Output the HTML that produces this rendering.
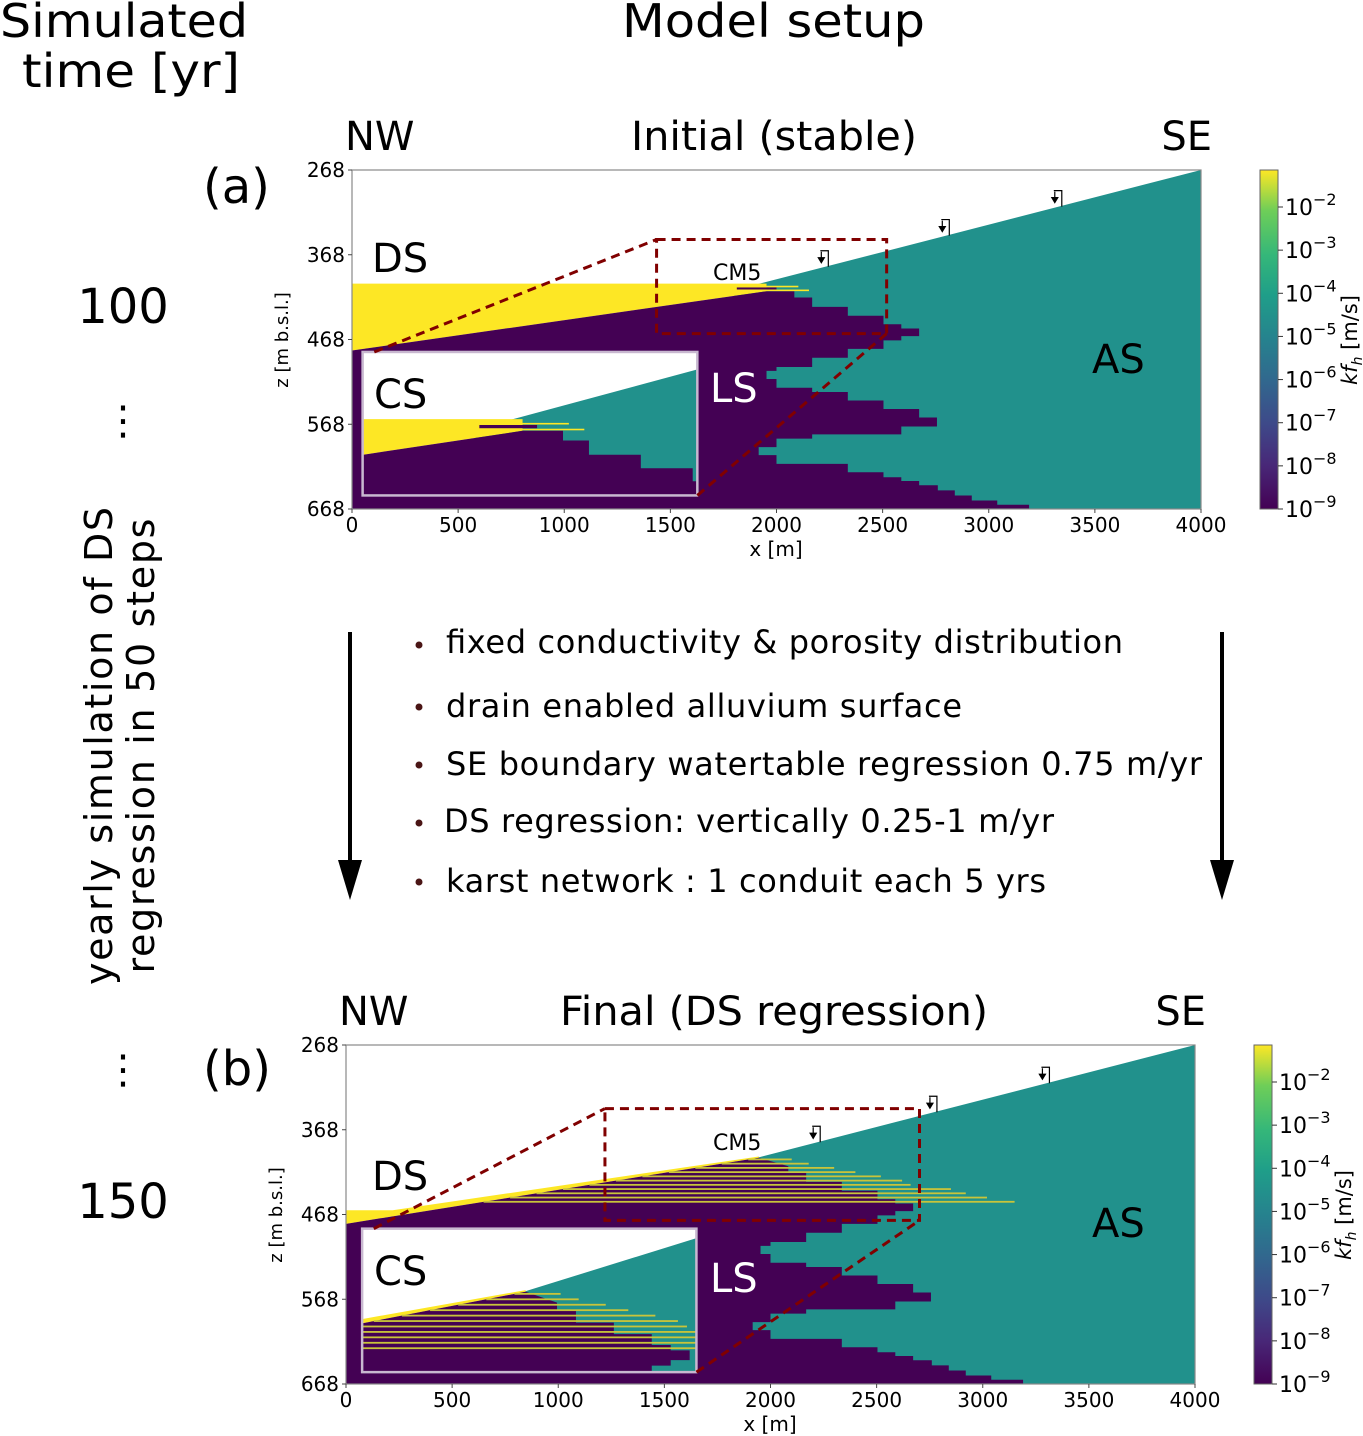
<!DOCTYPE html>
<html><head><meta charset="utf-8">
<style>
html,body{margin:0;padding:0;background:#fff;overflow:hidden;width:1363px;height:1436px;}
svg{display:block;font-family:"DejaVu Sans","Liberation Sans",sans-serif;}
</style></head>
<body>
<svg id="fig" width="1363" height="1436" viewBox="0 0 1363 1436" xmlns="http://www.w3.org/2000/svg">
<defs>
<linearGradient id="viridis" x1="0" y1="1" x2="0" y2="0">
<stop offset="0" stop-color="#440154"/><stop offset="0.13" stop-color="#482878"/><stop offset="0.25" stop-color="#3e4989"/>
<stop offset="0.38" stop-color="#31688e"/><stop offset="0.5" stop-color="#26828e"/><stop offset="0.63" stop-color="#1f9e89"/>
<stop offset="0.75" stop-color="#35b779"/><stop offset="0.88" stop-color="#6ece58"/><stop offset="1" stop-color="#fde725"/>
</linearGradient>
</defs>
<g font-size="46">
<text x="0" y="37" textLength="248" lengthAdjust="spacingAndGlyphs">Simulated</text>
<text x="22" y="87" textLength="218" lengthAdjust="spacingAndGlyphs">time [yr]</text>
<text x="622" y="37" textLength="303" lengthAdjust="spacingAndGlyphs">Model setup</text>
</g>
<g font-size="48">
<text x="123" y="323" text-anchor="middle">100</text>
<text x="123" y="1218" text-anchor="middle">150</text>
<text x="123" y="434" text-anchor="middle" font-size="40">⋮</text>
<text x="123" y="1083" text-anchor="middle" font-size="40">⋮</text>
<text x="203" y="203" font-size="48">(a)</text>
<text x="203" y="1085" font-size="48">(b)</text>
</g>
<g transform="translate(112,746) rotate(-90)" font-size="38">
<text x="0" y="0" text-anchor="middle" textLength="478">yearly simulation of DS</text>
<text x="0" y="42" text-anchor="middle" textLength="455">regression in 50 steps</text>
</g>
<g font-size="32">
<g fill="#4a1515"><circle cx="419" cy="645" r="3.5"/><circle cx="419" cy="707" r="3.5"/><circle cx="419" cy="765" r="3.5"/><circle cx="419" cy="823" r="3.5"/><circle cx="419" cy="882" r="3.5"/></g>
<text x="446" y="653" textLength="677">fixed conductivity &amp; porosity distribution</text>
<text x="446" y="717" textLength="516">drain enabled alluvium surface</text>
<text x="446" y="775" textLength="756">SE boundary watertable regression 0.75 m/yr</text>
<text x="444" y="832" textLength="610">DS regression: vertically 0.25-1 m/yr</text>
<text x="446" y="892" textLength="600">karst network : 1 conduit each 5 yrs</text>
</g>
<g>
<line x1="350" y1="632" x2="350" y2="870" stroke="#000" stroke-width="4"/>
<polygon points="338,860 362,860 350,900" fill="#000"/>
<line x1="1222" y1="632" x2="1222" y2="870" stroke="#000" stroke-width="4"/>
<polygon points="1210,860 1234,860 1222,900" fill="#000"/>
</g>
<g id="panelA"></g>
<g id="panelB"></g>
</svg>
<script>
// ---- data (metres) ----
const xTicks = [0, 500, 1000, 1500, 2000, 2500, 3000, 3500, 4000];
const zTicks = [268, 368, 468, 568, 668];
const cbExponents = [-2, -3, -4, -5, -6, -7, -8, -9];
// ground surface (AS top): two points
const surfaceX = [1953, 4000];
const surfaceZ = [400, 268];
// LS / AS step boundary: row top depth and purple right extent
const stepZ = [411, 418.5, 429.5, 440, 450, 455, 464, 469, 479, 489.5, 500.5, 505, 514.6, 525, 530, 540, 550, 560, 570.6, 580, 585, 595, 604.5, 614.7, 624.6, 630.5, 635, 640, 646, 652, 658, 663];
const stepX = [2084, 2168, 2336, 2504, 2588, 2672, 2588, 2504, 2336, 2168, 2000, 1953, 2000, 2168, 2336, 2504, 2672, 2756, 2588, 2168, 2000, 1916, 2000, 2336, 2504, 2588, 2672, 2760, 2840, 2920, 3040, 3190];
// initial state (a): DS top and LS top line
const dsTopZ = 402;
const lsTopA_X = [0, 1953];
const lsTopA_Z = [481, 411];
// final state (b): LS top line, DS remnant and conduit stripes
const lsTopB_X = [0, 1945];
const lsTopB_Z = [479, 401];
const dsRemnantTopZ = 463;
const dsRemnantFlatX = 220;
const stripeZ = [403, 408, 413, 418, 423, 428, 433, 438, 443, 448, 453];
const stripeEnd = [2100, 2180, 2300, 2400, 2520, 2620, 2660, 2850, 2920, 3020, 3150];
// CM5 lenses in (a)
const lensZ = [405.5, 410];
const lensStart = [1813, 1813];
const lensEnd = [2103, 2153];

const NS = 'http://www.w3.org/2000/svg';
const PURPLE = '#440154', TEAL = '#21918c', YELLOW = '#fde725';
function mk(tag, attrs, parent) {
  const e = document.createElementNS(NS, tag);
  for (const k in attrs) e.setAttribute(k, attrs[k]);
  parent.appendChild(e);
  return e;
}
function lin(xs, zs, x) { return zs[0] + (zs[1] - zs[0]) * (x - xs[0]) / (xs[1] - xs[0]); }
function surfZ(x) { return lin(surfaceX, surfaceZ, x); }

function drawSection(g, sx, sy, state) {
  const teal = mk('polygon', {points: [[1800, surfZ(1800)], [4000, 268], [4000, 668], [1800, 668]].map(p => sx(p[0]) + ',' + sy(p[1])).join(' '), fill: TEAL}, g);
  
  
  const topX = state === 'a' ? lsTopA_X : lsTopB_X;
  const topZ = state === 'a' ? lsTopA_Z : lsTopB_Z;
  if (state === 'a') {
    const ds = mk('polygon', {points: [[0, dsTopZ], [1953, dsTopZ], [1953, topZ[1]], [0, topZ[0]]].map(p => sx(p[0]) + ',' + sy(p[1])).join(' '), fill: YELLOW}, g);
    
    
  } else {
    const ds = mk('polygon', {points: [[0, dsRemnantTopZ], [dsRemnantFlatX, dsRemnantTopZ], [topX[1], topZ[1] - 1.5], [topX[1], topZ[1]], [0, topZ[0]]].map(p => sx(p[0]) + ',' + sy(p[1])).join(' '), fill: YELLOW}, g);
    
    
  }
  const pts = [[0, topZ[0]], [topX[1], topZ[1]]];
  for (let i = 0; i < stepZ.length; i++) {
    const zb = i + 1 < stepZ.length ? stepZ[i + 1] : 668;
    pts.push([stepX[i], stepZ[i]]);
    pts.push([stepX[i], zb]);
  }
  pts.push([0, 668]);
  const ls = mk('polygon', {points: pts.map(p => sx(p[0]) + ',' + sy(p[1])).join(' '), fill: PURPLE}, g);
  
  
  if (state === 'a') {
    const pl = mk('rect', {x: sx(1813), y: sy(406.5), width: sx(2000) - sx(1813), height: sy(409) - sy(406.5), fill: PURPLE}, g);
    
    
    for (let i = 0; i < lensZ.length; i++) {
      const l = mk('rect', {x: sx(lensStart[i]), y: sy(lensZ[i]) - 0.8, width: sx(lensEnd[i]) - sx(lensStart[i]), height: 1.6, fill: YELLOW}, g);
      
      
    }
  } else {
    for (let i = 0; i < stripeZ.length; i++) {
      const xs = Math.max(0, topX[0] + (topZ[0] - stripeZ[i]) * (topX[1] - topX[0]) / (topZ[0] - topZ[1]));
      const s = mk('rect', {x: sx(xs), y: sy(stripeZ[i]) - 0.9, width: Math.max(0, sx(stripeEnd[i]) - sx(xs)), height: 1.8, fill: '#c9c43a'}, g);
      
      
    }
  }
}

function panel(root, ox, oy, state, o) {
  const W = 849, H = 339;
  const sx = x => ox + x * W / 4000;
  const sy = z => oy + (z - 268) * H / 400;
  const clipId = 'clip' + state;
  const cp = mk('clipPath', {id: clipId}, root);
  mk('rect', {x: ox, y: oy, width: W, height: H}, cp);
  const g = mk('g', {'clip-path': 'url(#' + clipId + ')'}, root);
  
  
  drawSection(g, sx, sy, state);
  const fr = mk('rect', {x: ox, y: oy, width: W, height: H, fill: 'none', stroke: '#888', 'stroke-width': 1.2}, root);
  
  
  const ix0 = sx(o.inset[0]), ix1 = sx(o.inset[1]), iy0 = sy(o.inset[2]), iy1 = sy(o.inset[3]);
  const bx0 = o.box[0], bx1 = o.box[1], bz0 = o.box[2], bz1 = o.box[3];
  const isx = x => ix0 + (x - bx0) / (bx1 - bx0) * (ix1 - ix0);
  const isy = z => iy0 + (z - bz0) / (bz1 - bz0) * (iy1 - iy0);
  const cp2 = mk('clipPath', {id: clipId + 'i'}, root);
  mk('rect', {x: ix0, y: iy0, width: ix1 - ix0, height: iy1 - iy0}, cp2);
  mk('rect', {x: ix0, y: iy0, width: ix1 - ix0, height: iy1 - iy0, fill: '#fff'}, root);
  const gi = mk('g', {'clip-path': 'url(#' + clipId + 'i)'}, root);
  
  
  drawSection(gi, isx, isy, state);
  mk('rect', {x: ix0, y: iy0, width: ix1 - ix0, height: iy1 - iy0, fill: 'none', stroke: '#c8b8d0', 'stroke-width': 2.5}, root);
  const dash = {fill: 'none', stroke: '#800000', 'stroke-width': 3, 'stroke-dasharray': '9,6'};
  const zb = mk('rect', Object.assign({x: sx(bx0), y: sy(bz0), width: sx(bx1) - sx(bx0), height: sy(bz1) - sy(bz0)}, dash), root);
  
  
  mk('line', Object.assign({x1: sx(o.inset[0] + 55), y1: iy0, x2: sx(bx0), y2: sy(bz0)}, dash), root);
  mk('line', Object.assign({x1: ix1, y1: iy1, x2: sx(bx1), y2: sy(bz1)}, dash), root);
  o.markers.forEach(m => {
    const mx = sx(m), my = sy(surfZ(m)) - 4;
    const mg = mk('g', {fill: 'none', stroke: '#000', 'stroke-width': 1.2}, root);
    
    
    mk('path', {d: `M${mx - 5},${my - 12} H${mx + 3} V${my + 4} M${mx - 4},${my - 11} V${my - 1}`}, mg);
    mk('path', {d: `M${mx - 7},${my - 5} L${mx - 4},${my} L${mx - 1},${my - 5}Z`, fill: '#000'}, mg);
  });
  xTicks.forEach(t => {
    mk('line', {x1: sx(t), y1: oy + H, x2: sx(t), y2: oy + H + 4, stroke: '#444'}, root);
    const tx = mk('text', {x: sx(t), y: oy + H + 23, 'text-anchor': 'middle', 'font-size': 20}, root);
    tx.textContent = t;
    
    
  });
  zTicks.forEach(t => {
    mk('line', {x1: ox - 4, y1: sy(t), x2: ox, y2: sy(t), stroke: '#444'}, root);
    const tz = mk('text', {x: ox - 7, y: sy(t) + 7, 'text-anchor': 'end', 'font-size': 20}, root);
    tz.textContent = t;
    
    
  });
  const xl = mk('text', {x: ox + 424, y: oy + H + 47, 'text-anchor': 'middle', 'font-size': 20}, root);
  xl.textContent = 'x [m]';
  
  
  const zl = mk('text', {x: 0, y: 0, 'text-anchor': 'middle', 'font-size': 18, transform: `translate(${ox - 64},${oy + 170}) rotate(-90)`}, root);
  zl.textContent = 'z [m b.s.l.]';
  
  
  const tt = [['NW', ox - 7, 'start', 'nw-label', 0], [o.title, o.titleX, 'start', 'panel-title', o.titleW], ['SE', ox + 860, 'end', 'se-label', 0]];
  tt.forEach(t => {
    const at = {x: t[1], y: oy - 20, 'text-anchor': t[2], 'font-size': 40};
    if (t[4]) { at.textLength = t[4]; at.lengthAdjust = 'spacingAndGlyphs'; }
    const e = mk('text', at, root);
    e.textContent = t[0];
    
    
  });
  o.labels.forEach(l => {
    const e = mk('text', {x: l[1], y: l[2], 'font-size': l[4] || 40, fill: l[3]}, root);
    e.textContent = l[0];
    
    
  });
  const cbx = o.cbx, cbw = 18;
  const cb = mk('rect', {x: cbx, y: oy, width: cbw, height: H, fill: 'url(#viridis)', stroke: '#666', 'stroke-width': 1}, root);
  
  
  const dec = (H - 37) / 7;
  cbExponents.forEach(ex => {
    const y = oy + H - (ex + 9) * dec;
    mk('line', {x1: cbx + cbw, y1: y, x2: cbx + cbw + 5, y2: y, stroke: '#333'}, root);
    const t = mk('text', {x: cbx + cbw + 7, y: y + 8, 'font-size': 22}, root);
    
    
    t.appendChild(document.createTextNode('10'));
    const sp = mk('tspan', {dy: -10, 'font-size': 16}, t);
    sp.textContent = '\u2212' + (-ex);
  });
  const cl = mk('text', {x: 0, y: 0, 'text-anchor': 'middle', 'font-size': 21, transform: `translate(${cbx + 97},${oy + 170}) rotate(-90)`}, root);
  
  
  const k = mk('tspan', {'font-style': 'italic'}, cl); k.textContent = 'kf';
  const h = mk('tspan', {'font-style': 'italic', 'font-size': 14, dy: 5}, cl); h.textContent = 'h';
  const r = mk('tspan', {dy: -5}, cl); r.textContent = ' [m/s]';
}

panel(document.getElementById('panelA'), 352, 170, 'a', {
  title: 'Initial (stable)', titleX: 631, titleW: 286, cbx: 1260,
  inset: [50, 1627, 482.7, 652], box: [1435, 2519, 350, 461],
  markers: [3330, 2800, 2230],
  labels: [['DS', 372, 272, '#000'], ['CS', 374, 408, '#000'], ['LS', 710, 402, '#fff'], ['AS', 1092, 373, '#000'], ['CM5', 713, 280, '#000', 22]]
});
panel(document.getElementById('panelB'), 346, 1045, 'b', {
  title: 'Final (DS regression)', titleX: 560, titleW: 428, cbx: 1254,
  inset: [76, 1651, 484.7, 654], box: [1220, 2702, 343, 475],
  markers: [3300, 2770, 2220],
  labels: [['DS', 372, 1190, '#000'], ['CS', 374, 1285, '#000'], ['LS', 710, 1292, '#fff'], ['AS', 1092, 1237, '#000'], ['CM5', 713, 1150, '#000', 22]]
});
</script>
</body></html>
